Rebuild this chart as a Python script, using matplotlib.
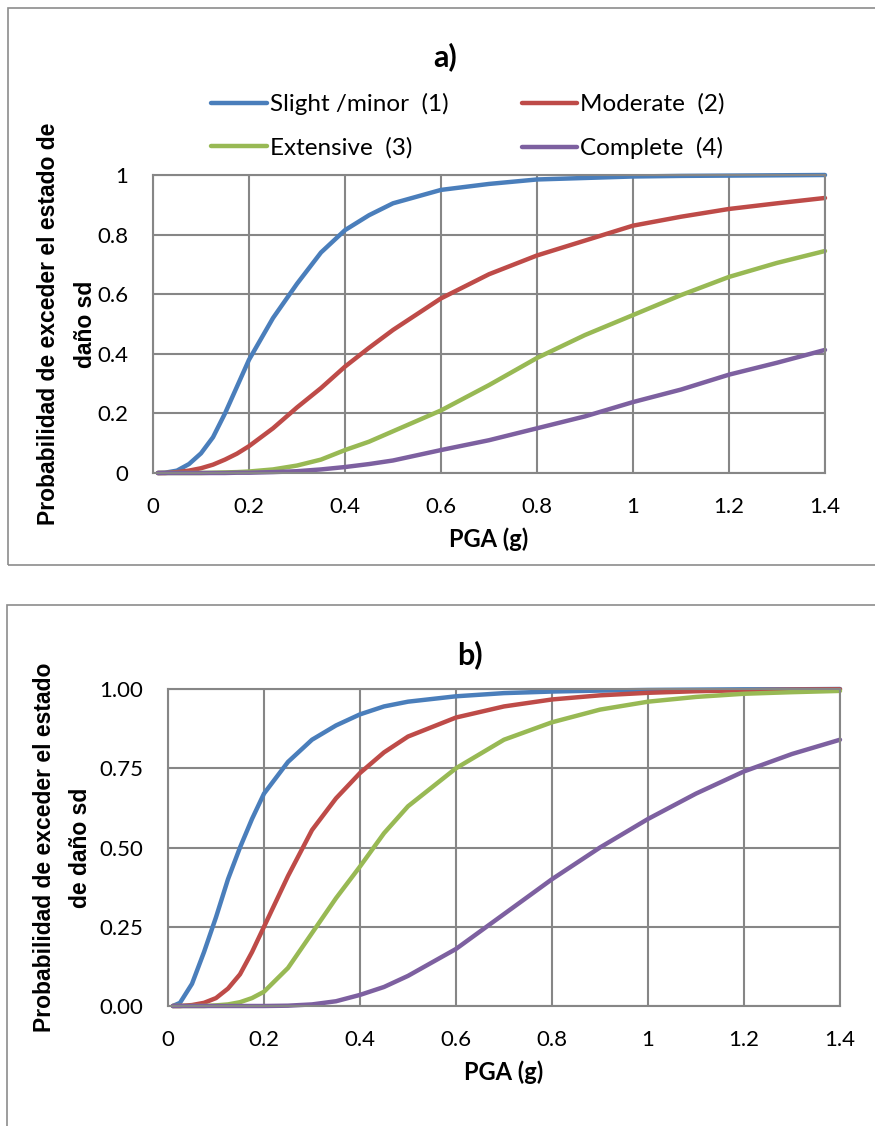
import matplotlib
matplotlib.use('Agg')
import matplotlib.pyplot as plt
from matplotlib.patches import Rectangle

# PGA values (g)
pga = [0.01, 0.025, 0.05, 0.075, 0.1, 0.125, 0.15, 0.175, 0.2, 0.25, 0.3, 0.35, 0.4,
       0.45, 0.5, 0.6, 0.7, 0.8, 0.9, 1.0, 1.1, 1.2, 1.3, 1.4]

# panel a)
slight_a = [0.0, 0.001, 0.008, 0.03, 0.066, 0.12, 0.20, 0.29, 0.38, 0.52, 0.635, 0.74, 0.815,
            0.865, 0.905, 0.95, 0.97, 0.985, 0.99, 0.995, 0.997, 0.998, 0.999, 1.0]
moderate_a = [0.0, 0.0, 0.003, 0.008, 0.016, 0.028, 0.045, 0.065, 0.09, 0.15, 0.22, 0.285, 0.357,
              0.42, 0.48, 0.586, 0.667, 0.73, 0.78, 0.83, 0.86, 0.886, 0.905, 0.923]
extensive_a = [0.0, 0.0, 0.0, 0.0, 0.0, 0.001, 0.002, 0.003, 0.005, 0.012, 0.025, 0.045, 0.077,
               0.105, 0.14, 0.21, 0.295, 0.386, 0.463, 0.53, 0.597, 0.658, 0.705, 0.745]
complete_a = [0.0, 0.0, 0.0, 0.0, 0.0, 0.0, 0.0, 0.001, 0.001, 0.003, 0.006, 0.012, 0.02,
              0.03, 0.042, 0.077, 0.11, 0.15, 0.19, 0.238, 0.28, 0.33, 0.37, 0.413]

# panel b)
slight_b = [0.0, 0.01, 0.07, 0.17, 0.28, 0.40, 0.50, 0.59, 0.67, 0.77, 0.84, 0.885, 0.92,
            0.945, 0.96, 0.977, 0.987, 0.992, 0.995, 0.997, 0.998, 0.999, 0.999, 1.0]
moderate_b = [0.0, 0.0, 0.003, 0.01, 0.025, 0.055, 0.10, 0.17, 0.25, 0.41, 0.555, 0.655, 0.735,
              0.80, 0.85, 0.91, 0.945, 0.967, 0.98, 0.988, 0.993, 0.996, 0.998, 0.999]
extensive_b = [0.0, 0.0, 0.0, 0.0, 0.002, 0.005, 0.012, 0.025, 0.045, 0.12, 0.23, 0.34, 0.44,
               0.545, 0.63, 0.75, 0.84, 0.895, 0.935, 0.96, 0.975, 0.985, 0.99, 0.994]
complete_b = [0.0, 0.0, 0.0, 0.0, 0.0, 0.0, 0.0, 0.0, 0.0, 0.001, 0.005, 0.015, 0.035,
              0.06, 0.095, 0.18, 0.29, 0.40, 0.50, 0.59, 0.67, 0.74, 0.795, 0.84]

labels = ['Slight /minor  (1)', 'Moderate  (2)', 'Extensive  (3)', 'Complete  (4)']
colors = ['#4A7EBB', '#BE4B48', '#98B954', '#7D60A0']
xticks = [0, 0.2, 0.4, 0.6, 0.8, 1.0, 1.2, 1.4]
xticklabels = ['0', '0.2', '0.4', '0.6', '0.8', '1', '1.2', '1.4']

plt.rcParams['font.family'] = ['Lato', 'DejaVu Sans']
grid_c = '#868686'

fig = plt.figure(figsize=(8.75, 11.26), dpi=100)

# outer chart boxes
fig.patches.append(Rectangle((8/875, 1-565/1126), 900/875, 557/1126, transform=fig.transFigure,
                             fill=False, edgecolor='#8c8c8c', lw=1.2))
fig.patches.append(Rectangle((7/875, -0.05), 900/875, 1-605/1126+0.05, transform=fig.transFigure,
                             fill=False, edgecolor='#8c8c8c', lw=1.2))


def style(ax, yticks, yfmt):
    ax.set_xlim(0, 1.4)
    ax.set_ylim(0, 1)
    ax.set_xticks(xticks)
    ax.set_xticklabels(xticklabels)
    ax.set_yticks(yticks)
    ax.set_yticklabels([yfmt % v for v in yticks])
    ax.grid(True, color=grid_c, lw=1.5)
    ax.set_axisbelow(True)
    for s in ax.spines.values():
        s.set_color(grid_c)
        s.set_linewidth(1.5)
    ax.tick_params(length=0, labelsize=16)
    ax.tick_params(axis='x', pad=17)
    ax.tick_params(axis='y', pad=18)
    ax.set_xlabel('PGA (g)', fontsize=17, fontweight='bold', labelpad=8)


ax1 = fig.add_axes([153/875, 1-473/1126, 672/875, 298/1126])
lines = []
for y, c, l in zip([slight_a, moderate_a, extensive_a, complete_a], colors, labels):
    ln, = ax1.plot(pga, y, color=c, lw=3.2, label=l, clip_on=False, solid_capstyle='round')
    lines.append(ln)
style(ax1, [0, 0.2, 0.4, 0.6, 0.8, 1.0], '%g')
ax1.set_ylabel('Probabilidad de exceder el estado de\ndaño sd', family=['Liberation Sans'],
               fontsize=16.5, fontweight='bold', labelpad=0, linespacing=1.75)
fig.text(445/875, 1-57/1126, 'a)', ha='center', va='center', fontsize=22, fontweight='bold')
# legend filled row by row
order = [0, 2, 1, 3]
fig.legend([lines[i] for i in order], [labels[i] for i in order], loc='center',
           bbox_to_anchor=(468/875, 1-126/1126), bbox_transform=fig.transFigure,
           ncol=2, frameon=False, fontsize=17.5, handlelength=2.3, handletextpad=0.12,
           columnspacing=3.0, labelspacing=0.9)

ax2 = fig.add_axes([168/875, 1-1006/1126, 672/875, 317/1126])
for y, c in zip([slight_b, moderate_b, extensive_b, complete_b], colors):
    ax2.plot(pga, y, color=c, lw=3.2, clip_on=False, solid_capstyle='round')
style(ax2, [0, 0.25, 0.5, 0.75, 1.0], '%.2f')
ax2.set_ylabel('Probabilidad de exceder el estado\nde daño sd', family=['Liberation Sans'],
               fontsize=16.5, fontweight='bold', labelpad=5, linespacing=1.75)
fig.text(470/875, 1-655/1126, 'b)', ha='center', va='center', fontsize=22, fontweight='bold')

fig.savefig('out.png', dpi=100)
